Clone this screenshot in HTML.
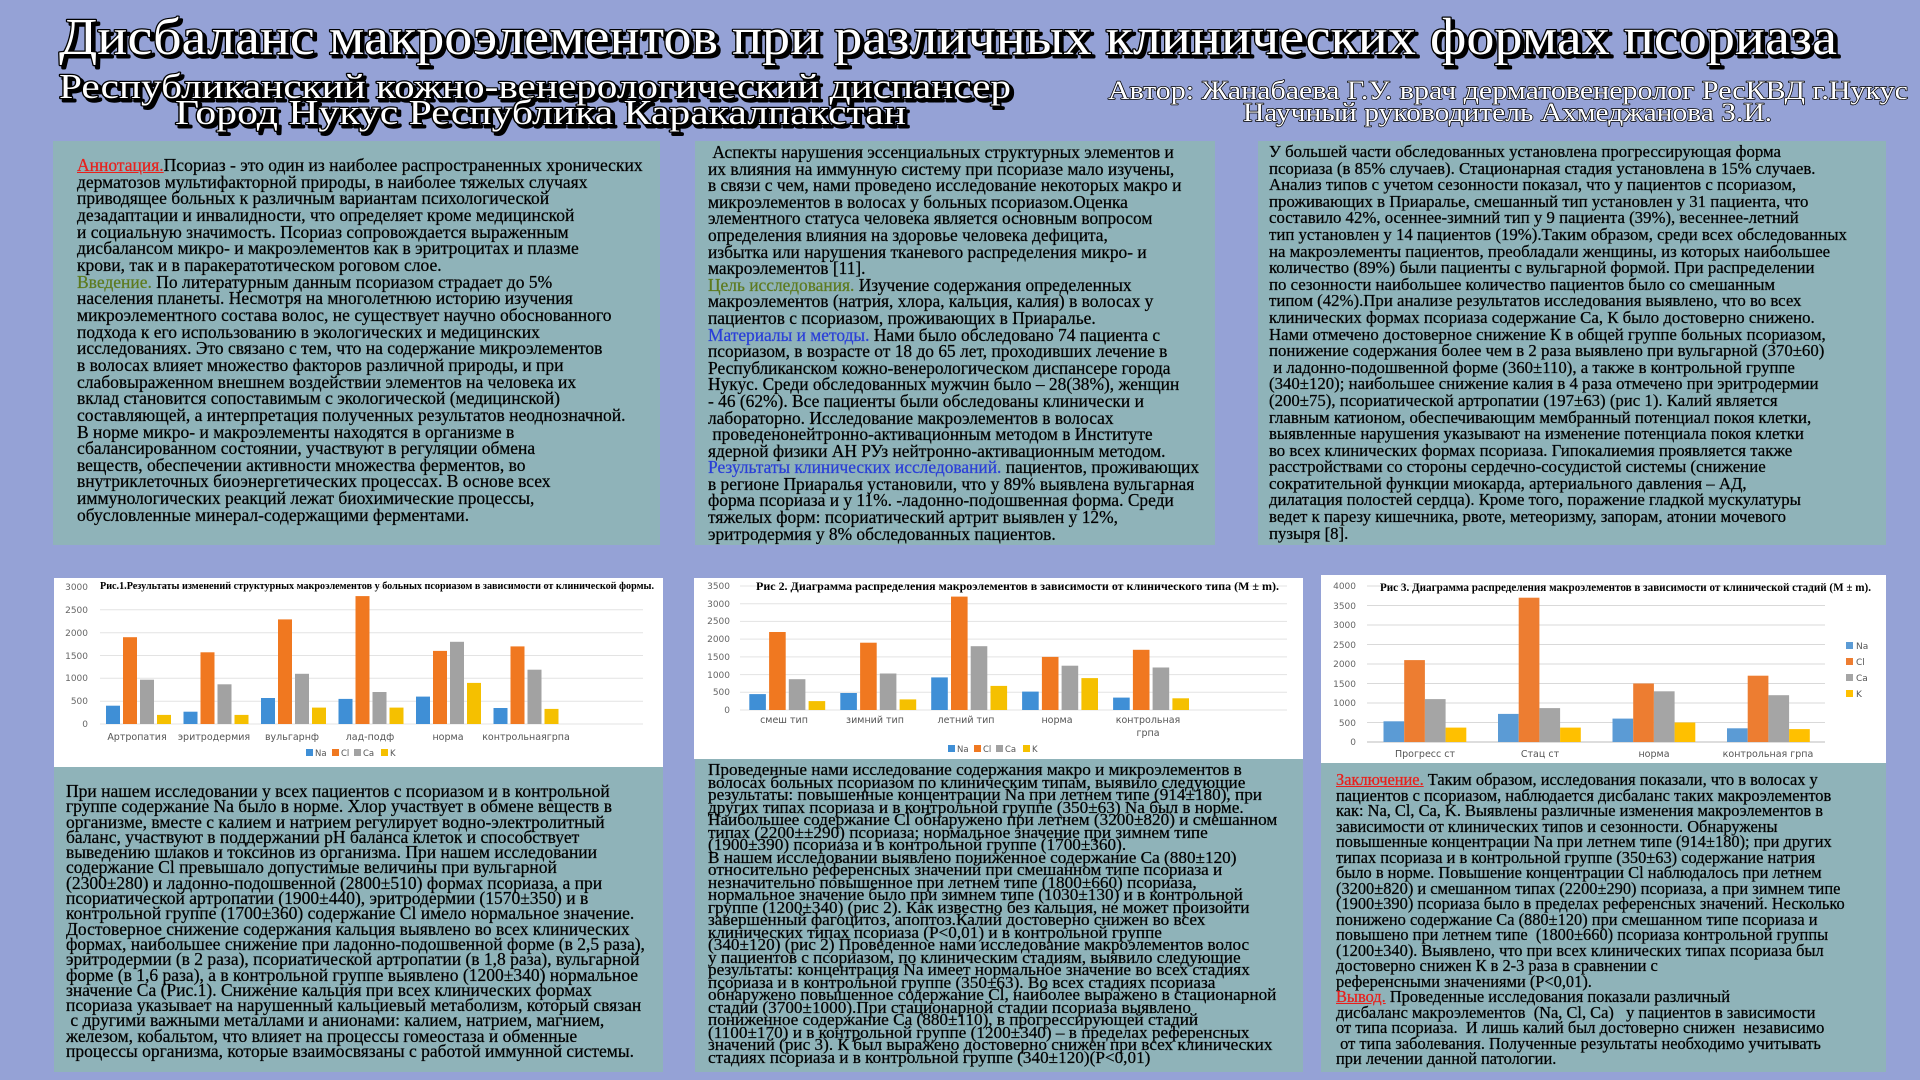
<!DOCTYPE html>
<html><head><meta charset="utf-8">
<style>
html,body{margin:0;padding:0;}
body{width:1920px;height:1080px;background:#95a2d6;position:relative;overflow:hidden;font-family:"Liberation Serif","DejaVu Serif",serif;}
.p{position:absolute;background:#8fb3b9;}
.t{position:absolute;white-space:pre;color:#000;font-size:16px;-webkit-text-stroke:0.25px #000;}
.r{color:#e8201c;text-decoration:underline;-webkit-text-stroke:0.25px #e8201c;}
.g{color:#5d7a1e;-webkit-text-stroke:0.25px #5d7a1e;}
.b{color:#2a3fd8;-webkit-text-stroke:0.25px #2a3fd8;}
svg{position:absolute;left:0;top:0;}
</style></head><body>
<div class="p" style="left:53px;top:141px;width:607px;height:404px"></div>
<div class="p" style="left:695px;top:141px;width:520px;height:404px"></div>
<div class="p" style="left:1258px;top:141px;width:628px;height:404px"></div>
<div class="p" style="left:54px;top:765px;width:609px;height:307px"></div>
<div class="p" style="left:695px;top:758px;width:608px;height:314px"></div>
<div class="p" style="left:1321px;top:760px;width:565px;height:312px"></div>

<div class="t" style="left:77px;top:157px;line-height:16.65px;font-size:17.5px"><span class="r">Аннотация.</span>Псориаз - это один из наиболее распространенных хронических
дерматозов мультифакторной природы, в наиболее тяжелых случаях
приводящее больных к различным вариантам психологической
дезадаптации и инвалидности, что определяет кроме медицинской
и социальную значимость. Псориаз сопровождается выраженным
дисбалансом микро- и макроэлементов как в эритроцитах и плазме
крови, так и в паракератотическом роговом слое.
<span class="g">Введение.</span> По литературным данным псориазом страдает до 5%
населения планеты. Несмотря на многолетнюю историю изучения
микроэлементного состава волос, не существует научно обоснованного
подхода к его использованию в экологических и медицинских
исследованиях. Это связано с тем, что на содержание микроэлементов
в волосах влияет множество факторов различной природы, и при
слабовыраженном внешнем воздействии элементов на человека их
вклад становится сопоставимым с экологической (медицинской)
составляющей, а интерпретация полученных результатов неоднозначной.
В норме микро- и макроэлементы находятся в организме в
сбалансированном состоянии, участвуют в регуляции обмена
веществ, обеспечении активности множества ферментов, во
внутриклеточных биоэнергетических процессах. В основе всех
иммунологических реакций лежат биохимические процессы,
обусловленные минерал-содержащими ферментами.</div>

<div class="t" style="left:708px;top:144px;line-height:16.6px;font-size:17.4px"> Аспекты нарушения эссенциальных структурных элементов и
их влияния на иммунную систему при псориазе мало изучены,
в связи с чем, нами проведено исследование некоторых макро и
микроэлементов в волосах у больных псориазом.Оценка
элементного статуса человека является основным вопросом
определения влияния на здоровье человека дефицита,
избытка или нарушения тканевого распределения микро- и
макроэлементов [11].
<span class="g">Цель исследования.</span> Изучение содержания определенных
макроэлементов (натрия, хлора, кальция, калия) в волосах у
пациентов с псориазом, проживающих в Приаралье.
<span class="b">Материалы и методы.</span> Нами было обследовано 74 пациента с
псориазом, в возрасте от 18 до 65 лет, проходивших лечение в
Республиканском кожно-венерологическом диспансере города
Нукус. Среди обследованных мужчин было – 28(38%), женщин
- 46 (62%). Все пациенты были обследованы клинически и
лабораторно. Исследование макроэлементов в волосах
 проведенонейтронно-активационным методом в Институте
ядерной физики АН РУз нейтронно-активационным методом.
<span class="b">Результаты клинических исследований.</span> пациентов, проживающих
в регионе Приаралья установили, что у 89% выявлена вульгарная
форма псориаза и у 11%. -ладонно-подошвенная форма. Среди
тяжелых форм: псориатический артрит выявлен у 12%,
эритродермия у 8% обследованных пациентов.</div>

<div class="t" style="left:1269px;top:144px;line-height:16.6px;font-size:16.8px">У большей части обследованных установлена прогрессирующая форма
псориаза (в 85% случаев). Стационарная стадия установлена в 15% случаев.
Анализ типов с учетом сезонности показал, что у пациентов с псориазом,
проживающих в Приаралье, смешанный тип установлен у 31 пациента, что
составило 42%, осеннее-зимний тип у 9 пациента (39%), весеннее-летний
тип установлен у 14 пациентов (19%).Таким образом, среди всех обследованных
на макроэлементы пациентов, преобладали женщины, из которых наибольшее
количество (89%) были пациенты с вульгарной формой. При распределении
по сезонности наибольшее количество пациентов было со смешанным
типом (42%).При анализе результатов исследования выявлено, что во всех
клинических формах псориаза содержание Са, К было достоверно снижено.
Нами отмечено достоверное снижение К в общей группе больных псориазом,
понижение содержания более чем в 2 раза выявлено при вульгарной (370±60)
 и ладонно-подошвенной форме (360±110), а также в контрольной группе
(340±120); наибольшее снижение калия в 4 раза отмечено при эритродермии
(200±75), псориатической артропатии (197±63) (рис 1). Калий является
главным катионом, обеспечивающим мембранный потенциал покоя клетки,
выявленные нарушения указывают на изменение потенциала покоя клетки
во всех клинических формах псориаза. Гипокалиемия проявляется также
расстройствами со стороны сердечно-сосудистой системы (снижение
сократительной функции миокарда, артериального давления – АД,
дилатация полостей сердца). Кроме того, поражение гладкой мускулатуры
ведет к парезу кишечника, рвоте, метеоризму, запорам, атонии мочевого
пузыря [8].</div>

<div class="t" style="left:66px;top:784px;line-height:15.3px;font-size:17.5px">При нашем исследовании у всех пациентов с псориазом и в контрольной
группе содержание Na было в норме. Хлор участвует в обмене веществ в
организме, вместе с калием и натрием регулирует водно-электролитный
баланс, участвуют в поддержании pH баланса клеток и способствует
выведению шлаков и токсинов из организма. При нашем исследовании
содержание Cl превышало допустимые величины при вульгарной
(2300±280) и ладонно-подошвенной (2800±510) формах псориаза, а при
псориатической артропатии (1900±440), эритродермии (1570±350) и в
контрольной группе (1700±360) содержание Cl имело нормальное значение.
Достоверное снижение содержания кальция выявлено во всех клинических
формах, наибольшее снижение при ладонно-подошвенной форме (в 2,5 раза),
эритродермии (в 2 раза), псориатической артропатии (в 1,8 раза), вульгарной
форме (в 1,6 раза), а в контрольной группе выявлено (1200±340) нормальное
значение Са (Рис.1). Снижение кальция при всех клинических формах
псориаза указывает на нарушенный кальциевый метаболизм, который связан
 с другими важными металлами и анионами: калием, натрием, магнием,
железом, кобальтом, что влияет на процессы гомеостаза и обменные
процессы организма, которые взаимосвязаны с работой иммунной системы.</div>

<div class="t" style="left:708px;top:764px;line-height:12.5px;font-size:17.2px">Проведенные нами исследование содержания макро и микроэлементов в
волосах больных псориазом по клиническим типам, выявило следующие
результаты: повышенные концентрации Na при летнем типе (914±180), при
других типах псориаза и в контрольной группе (350±63) Na был в норме.
Наибольшее содержание Cl обнаружено при летнем (3200±820) и смешанном
типах (2200±±290) псориаза; нормальное значение при зимнем типе
(1900±390) псориаза и в контрольной группе (1700±360).
В нашем исследовании выявлено пониженное содержание Са (880±120)
относительно референсных значений при смешанном типе псориаза и
незначительно повышенное при летнем типе (1800±660) псориаза,
нормальное значение было при зимнем типе (1030±130) и в контрольной
группе (1200±340) (рис 2). Как известно без кальция, не может произойти
завершенный фагоцитоз, апоптоз.Калий достоверно снижен во всех
клинических типах псориаза (P&lt;0,01) и в контрольной группе
(340±120) (рис 2) Проведенное нами исследование макроэлементов волос
у пациентов с псориазом, по клиническим стадиям, выявило следующие
результаты: концентрация Na имеет нормальное значение во всех стадиях
псориаза и в контрольной группе (350±63). Во всех стадиях псориаза
обнаружено повышенное содержание Cl, наиболее выражено в стационарной
стадии (3700±1000).При стационарной стадии псориаза выявлено
пониженное содержание Са (880±110), в прогрессирующей стадий
(1100±170) и в контрольной группе (1200±340) – в пределах референсных
значений (рис 3). К был выражено достоверно снижен при всех клинических
стадиях псориаза и в контрольной группе (340±120)(P&lt;0,01)</div>

<div class="t" style="left:1336px;top:772px;line-height:15.5px;font-size:16.4px"><span class="r">Заключение.</span> Таким образом, исследования показали, что в волосах у
пациентов с псориазом, наблюдается дисбаланс таких макроэлементов
как: Na, Cl, Ca, K. Выявлены различные изменения макроэлементов в
зависимости от клинических типов и сезонности. Обнаружены
повышенные концентрации Na при летнем типе (914±180); при других
типах псориаза и в контрольной группе (350±63) содержание натрия
было в норме. Повышение концентрации Cl наблюдалось при летнем
(3200±820) и смешанном типах (2200±290) псориаза, а при зимнем типе
(1900±390) псориаза было в пределах референсных значений. Несколько
понижено содержание Са (880±120) при смешанном типе псориаза и
повышено при летнем типе  (1800±660) псориаза контрольной группы
(1200±340). Выявлено, что при всех клинических типах псориаза был
достоверно снижен К в 2-3 раза в сравнении с
референсными значениями (P&lt;0,01).
<span class="r">Вывод.</span> Проведенные исследования показали различный
дисбаланс макроэлементов  (Na, Cl, Са)   у пациентов в зависимости
от типа псориаза.  И лишь калий был достоверно снижен  независимо
 от типа заболевания. Полученные результаты необходимо учитывать
при лечении данной патологии.</div>

<svg width="1920" height="1080" viewBox="0 0 1920 1080" font-family="'Liberation Serif',serif">
<g font-family="'Liberation Serif',serif" stroke-linejoin="round">
 <g fill="#000" stroke="#000" stroke-width="3" transform="translate(3,3)">
  <text x="59" y="54" font-size="52" textLength="1778" lengthAdjust="spacingAndGlyphs">Дисбаланс макроэлементов при различных клинических формах псориаза</text>
  <text x="59" y="98" font-size="35" textLength="952" lengthAdjust="spacingAndGlyphs">Республиканский кожно-венерологический диспансер</text>
  <text x="175" y="124" font-size="35" textLength="731" lengthAdjust="spacingAndGlyphs">Город Нукус Республика Каракалпакстан</text>
 </g>
 <g fill="#fff" stroke="#000" stroke-width="2.4" paint-order="stroke">
  <text x="59" y="54" font-size="52" textLength="1778" lengthAdjust="spacingAndGlyphs">Дисбаланс макроэлементов при различных клинических формах псориаза</text>
  <text x="59" y="98" font-size="35" textLength="952" lengthAdjust="spacingAndGlyphs">Республиканский кожно-венерологический диспансер</text>
  <text x="175" y="124" font-size="35" textLength="731" lengthAdjust="spacingAndGlyphs">Город Нукус Республика Каракалпакстан</text>
 </g>
 <g fill="#fff" stroke="#000" stroke-width="1.4" paint-order="stroke">
  <text x="1108" y="99" font-size="26" textLength="800" lengthAdjust="spacingAndGlyphs">Автор: Жанабаева Г.У. врач дерматовенеролог РесКВД г.Нукус</text>
  <text x="1243" y="121" font-size="26" textLength="529" lengthAdjust="spacingAndGlyphs">Научный руководитель Ахмеджанова З.И.</text>
 </g>
</g>

<!-- Chart 1 -->
<rect x="54" y="578" width="609" height="189" fill="#fff"/>
<g stroke="#e3e3e3" stroke-width="1">
<line x1="100" x2="643" y1="587" y2="587"/><line x1="100" x2="643" y1="609.8" y2="609.8"/><line x1="100" x2="643" y1="632.7" y2="632.7"/><line x1="100" x2="643" y1="655.5" y2="655.5"/><line x1="100" x2="643" y1="678.3" y2="678.3"/><line x1="100" x2="643" y1="701.2" y2="701.2"/><line x1="100" x2="643" y1="724" y2="724"/>
</g>
<g font-family="'DejaVu Sans',sans-serif" font-size="9" fill="#666" text-anchor="end">
<text x="88" y="590">3000</text><text x="88" y="613">2500</text><text x="88" y="636">2000</text><text x="88" y="659">1500</text><text x="88" y="681">1000</text><text x="88" y="704">500</text><text x="88" y="727">0</text>
</g>
<g font-family="'DejaVu Sans',sans-serif" font-size="9.5" fill="#555" text-anchor="middle">
<text x="137" y="740">Артропатия</text><text x="214" y="740">эритродермия</text><text x="292" y="740">вульгарнф</text><text x="370" y="740">лад-подф</text><text x="448" y="740">норма</text><text x="526" y="740">контрольнаягрпа</text>
</g>
<g>
<rect x="106" y="705.7" width="14" height="18.3" fill="#3f8fd6"/><rect x="123" y="637.2" width="14" height="86.8" fill="#f07820"/><rect x="140" y="679.7" width="14" height="44.3" fill="#a2a2a2"/><rect x="157" y="714.9" width="14" height="9.1" fill="#f5c000"/>
<rect x="183.5" y="711.7" width="14" height="12.3" fill="#3f8fd6"/><rect x="200.5" y="652.3" width="14" height="71.7" fill="#f07820"/><rect x="217.5" y="684.3" width="14" height="39.7" fill="#a2a2a2"/><rect x="234.5" y="714.9" width="14" height="9.1" fill="#f5c000"/>
<rect x="261" y="698" width="14" height="26" fill="#3f8fd6"/><rect x="278" y="619.4" width="14" height="104.6" fill="#f07820"/><rect x="295" y="673.8" width="14" height="50.2" fill="#a2a2a2"/><rect x="312" y="707.6" width="14" height="16.4" fill="#f5c000"/>
<rect x="338.5" y="698.9" width="14" height="25.1" fill="#3f8fd6"/><rect x="355.5" y="596.1" width="14" height="127.9" fill="#f07820"/><rect x="372.5" y="692" width="14" height="32" fill="#a2a2a2"/><rect x="389.5" y="707.6" width="14" height="16.4" fill="#f5c000"/>
<rect x="416" y="696.6" width="14" height="27.4" fill="#3f8fd6"/><rect x="433" y="650.9" width="14" height="73.1" fill="#f07820"/><rect x="450" y="641.8" width="14" height="82.2" fill="#a2a2a2"/><rect x="467" y="682.9" width="14" height="41.1" fill="#f5c000"/>
<rect x="493.5" y="708" width="14" height="16" fill="#3f8fd6"/><rect x="510.5" y="646.4" width="14" height="77.6" fill="#f07820"/><rect x="527.5" y="669.7" width="14" height="54.3" fill="#a2a2a2"/><rect x="544.5" y="708.9" width="14" height="15.1" fill="#f5c000"/>
</g>
<g font-family="'DejaVu Sans',sans-serif" font-size="8.5" fill="#555">
<rect x="306" y="749" width="7" height="7" fill="#3f8fd6"/><text x="315" y="756">Na</text>
<rect x="332" y="749" width="7" height="7" fill="#f07820"/><text x="341" y="756">Cl</text>
<rect x="354" y="749" width="7" height="7" fill="#a2a2a2"/><text x="363" y="756">Ca</text>
<rect x="381" y="749" width="7" height="7" fill="#f5c000"/><text x="390" y="756">K</text>
</g>
<text x="100" y="589" font-size="11" font-weight="bold" textLength="554" lengthAdjust="spacingAndGlyphs">Рис.1.Результаты изменений структурных макроэлементов у больных псориазом в зависимости от клинической формы.</text>

<!-- Chart 2 -->
<rect x="694" y="578" width="609" height="181" fill="#fff"/>
<g stroke="#e3e3e3">
<line x1="740" x2="1287" y1="586" y2="586"/><line x1="740" x2="1287" y1="603.7" y2="603.7"/><line x1="740" x2="1287" y1="621.4" y2="621.4"/><line x1="740" x2="1287" y1="639.1" y2="639.1"/><line x1="740" x2="1287" y1="656.9" y2="656.9"/><line x1="740" x2="1287" y1="674.6" y2="674.6"/><line x1="740" x2="1287" y1="692.3" y2="692.3"/><line x1="740" x2="1287" y1="710" y2="710"/>
</g>
<g font-family="'DejaVu Sans',sans-serif" font-size="9" fill="#666" text-anchor="end">
<text x="730" y="589">3500</text><text x="730" y="607">3000</text><text x="730" y="624">2500</text><text x="730" y="642">2000</text><text x="730" y="660">1500</text><text x="730" y="678">1000</text><text x="730" y="695">500</text><text x="730" y="713">0</text>
</g>
<g font-family="'DejaVu Sans',sans-serif" font-size="9.5" fill="#555" text-anchor="middle">
<text x="784" y="723">смеш тип</text><text x="875" y="723">зимний  тип</text><text x="966" y="723">летний тип</text><text x="1057" y="723">норма</text><text x="1148" y="723">контрольная</text><text x="1148" y="736">грпа</text>
</g>
<g>
<rect x="749.3" y="694.1" width="16.6" height="15.9" fill="#3f8fd6"/><rect x="769.1" y="632" width="16.6" height="78" fill="#f07820"/><rect x="788.8" y="679.2" width="16.6" height="30.8" fill="#a2a2a2"/><rect x="808.6" y="701.1" width="16.6" height="8.9" fill="#f5c000"/>
<rect x="840.3" y="693" width="16.6" height="17" fill="#3f8fd6"/><rect x="860.1" y="642.7" width="16.6" height="67.3" fill="#f07820"/><rect x="879.8" y="673.5" width="16.6" height="36.5" fill="#a2a2a2"/><rect x="899.6" y="699.4" width="16.6" height="10.6" fill="#f5c000"/>
<rect x="931.2" y="677.4" width="16.6" height="32.6" fill="#3f8fd6"/><rect x="951" y="596.6" width="16.6" height="113.4" fill="#f07820"/><rect x="970.7" y="646.2" width="16.6" height="63.8" fill="#a2a2a2"/><rect x="990.5" y="685.9" width="16.6" height="24.1" fill="#f5c000"/>
<rect x="1022.1" y="691.6" width="16.6" height="18.4" fill="#3f8fd6"/><rect x="1041.9" y="656.9" width="16.6" height="53.1" fill="#f07820"/><rect x="1061.6" y="665.7" width="16.6" height="44.3" fill="#a2a2a2"/><rect x="1081.4" y="678.1" width="16.6" height="31.9" fill="#f5c000"/>
<rect x="1113.1" y="697.6" width="16.6" height="12.4" fill="#3f8fd6"/><rect x="1132.9" y="649.8" width="16.6" height="60.2" fill="#f07820"/><rect x="1152.6" y="667.5" width="16.6" height="42.5" fill="#a2a2a2"/><rect x="1172.4" y="698.3" width="16.6" height="11.7" fill="#f5c000"/>
</g>
<g font-family="'DejaVu Sans',sans-serif" font-size="8.5" fill="#555">
<rect x="948" y="745" width="7" height="7" fill="#3f8fd6"/><text x="957" y="752">Na</text>
<rect x="974" y="745" width="7" height="7" fill="#f07820"/><text x="983" y="752">Cl</text>
<rect x="996" y="745" width="7" height="7" fill="#a2a2a2"/><text x="1005" y="752">Ca</text>
<rect x="1023" y="745" width="7" height="7" fill="#f5c000"/><text x="1032" y="752">K</text>
</g>
<text x="756" y="590" font-size="12" font-weight="bold" textLength="523" lengthAdjust="spacingAndGlyphs">Рис 2. Диаграмма распределения макроэлементов в зависимости от клинического типа (M ± m).</text>

<!-- Chart 3 -->
<rect x="1321" y="575" width="565" height="188" fill="#fff"/>
<g stroke="#d9d9d9">
<line x1="1367" x2="1825" y1="586" y2="586"/><line x1="1367" x2="1825" y1="605.5" y2="605.5"/><line x1="1367" x2="1825" y1="625" y2="625"/><line x1="1367" x2="1825" y1="644.5" y2="644.5"/><line x1="1367" x2="1825" y1="664" y2="664"/><line x1="1367" x2="1825" y1="683.5" y2="683.5"/><line x1="1367" x2="1825" y1="703" y2="703"/><line x1="1367" x2="1825" y1="722.5" y2="722.5"/>
<line x1="1367" x2="1825" y1="742" y2="742" stroke="#bbb"/>
</g>
<g font-family="'DejaVu Sans',sans-serif" font-size="9" fill="#666" text-anchor="end">
<text x="1356" y="589">4000</text><text x="1356" y="609">3500</text><text x="1356" y="628">3000</text><text x="1356" y="648">2500</text><text x="1356" y="667">2000</text><text x="1356" y="687">1500</text><text x="1356" y="706">1000</text><text x="1356" y="726">500</text><text x="1356" y="745">0</text>
</g>
<g font-family="'DejaVu Sans',sans-serif" font-size="9.5" fill="#555" text-anchor="middle">
<text x="1425" y="757">Прогресс ст</text><text x="1540" y="757">Стац ст</text><text x="1654" y="757">норма</text><text x="1768" y="757">контрольная грпа</text>
</g>
<g>
<rect x="1383.5" y="721.3" width="20.7" height="20.7" fill="#5b9bd5"/><rect x="1404.2" y="660.1" width="20.7" height="81.9" fill="#ed7d31"/><rect x="1424.9" y="699.1" width="20.7" height="42.9" fill="#a5a5a5"/><rect x="1445.6" y="727.6" width="20.7" height="14.4" fill="#ffc000"/>
<rect x="1498" y="713.9" width="20.7" height="28.1" fill="#5b9bd5"/><rect x="1518.7" y="597.7" width="20.7" height="144.3" fill="#ed7d31"/><rect x="1539.4" y="708.1" width="20.7" height="33.9" fill="#a5a5a5"/><rect x="1560.1" y="727.6" width="20.7" height="14.4" fill="#ffc000"/>
<rect x="1612.5" y="718.6" width="20.7" height="23.4" fill="#5b9bd5"/><rect x="1633.2" y="683.5" width="20.7" height="58.5" fill="#ed7d31"/><rect x="1653.9" y="691.3" width="20.7" height="50.7" fill="#a5a5a5"/><rect x="1674.6" y="722.5" width="20.7" height="19.5" fill="#ffc000"/>
<rect x="1727" y="728.3" width="20.7" height="13.7" fill="#5b9bd5"/><rect x="1747.7" y="675.7" width="20.7" height="66.3" fill="#ed7d31"/><rect x="1768.4" y="695.2" width="20.7" height="46.8" fill="#a5a5a5"/><rect x="1789.1" y="729.1" width="20.7" height="12.9" fill="#ffc000"/>
</g>
<g font-family="'DejaVu Sans',sans-serif" font-size="9" fill="#555">
<rect x="1846" y="642" width="7" height="7" fill="#5b9bd5"/><text x="1856" y="649">Na</text>
<rect x="1846" y="658" width="7" height="7" fill="#ed7d31"/><text x="1856" y="665">Cl</text>
<rect x="1846" y="674" width="7" height="7" fill="#a5a5a5"/><text x="1856" y="681">Ca</text>
<rect x="1846" y="690" width="7" height="7" fill="#ffc000"/><text x="1856" y="697">K</text>
</g>
<text x="1380" y="591" font-size="12" font-weight="bold" textLength="491" lengthAdjust="spacingAndGlyphs">Рис 3. Диаграмма распределения макроэлементов в зависимости от клинической стадий (M ± m).</text>
</svg>
</body></html>
